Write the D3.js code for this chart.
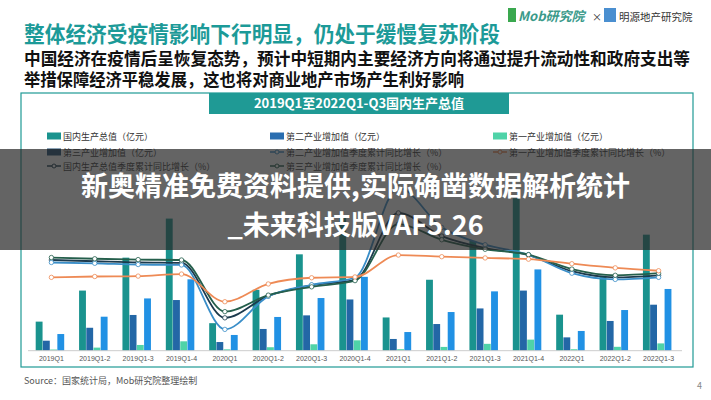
<!DOCTYPE html>
<html><head><meta charset="utf-8">
<script src="https://cdn.jsdelivr.net/npm/d3@7"></script>
<style>body{margin:0;background:#fff}svg{display:block;font-family:"Noto Sans CJK SC","Noto Sans",sans-serif}</style>
</head><body><svg id="c" width="711" height="400"></svg>
<script>
const categories=["2019Q1","2019Q1-2","2019Q1-3","2019Q1-4","2020Q1","2020Q1-2","2020Q1-3","2020Q1-4","2021Q1","2021Q1-2","2021Q1-3","2021Q1-4","2022Q1","2022Q1-2","2022Q1-3"];
const gdp=[218063,450933,697798,990865,206504,456614,722786,1015986,249310,532167,823131,1143670,270178,562642,870269];
const secondary=[75000,172000,268000,380000,65000,163000,265000,384255,88000,200000,317000,450904,100000,223000,345000];
const primary=[8769,23207,43005,70467,10186,26053,48123,77754,11332,28402,51430,83086,10954,29137,54779];
const tertiary=[125000,255000,392000,535371,118000,253000,395000,553977,140000,290000,445000,609680,148000,305000,463000];
const gdpGrowth=[6.9,6.6,6.3,6.2,-7.1,-1.8,0.8,2.1,18.3,12.7,9.8,8.1,4.2,2.7,3.2];
const secGrowth=[6.3,6.1,5.8,5.7,-9.9,-1.9,0.9,2.6,24.4,14.8,10.6,8.2,3.7,2.2,2.7];
const terGrowth=[7.5,7.2,7.0,6.9,-5.6,-1.6,0.4,1.9,15.6,11.8,9.5,8.2,4.7,3.2,3.7];
const priGrowth=[2.7,2.9,3.0,3.5,-3.2,1.1,2.6,2.8,8.1,7.7,7.4,7.1,6.0,5.0,4.3];
const legendItems=[["国内生产总值（亿元）","bar",0],["第二产业增加值（亿元）","bar",1],["第一产业增加值（亿元）","bar",2],["第三产业增加值（亿元）","bar",3],["第二产业增加值季度累计同比增长（%）","line",1],["第一产业增加值季度累计同比增长（%）","line",3],["国内生产总值季度累计同比增长（%）","line",0],["第三产业增加值季度累计同比增长（%）","line",2]];

const svg=d3.select("#c");
const teal="#1f9a95";
const barColors=["#1a938e","#2367a6","#4fd3a8","#2191e4"];
const legendBarColors=["#1a938e","#2a6eb0","#4fd3a8","#1f4d72"];
const lineColors=["#1c3a4d","#3a8ec8","#255f4c","#ee8a55"];

svg.append("text").attr("x",24).attr("y",42).attr("font-size",21.5).attr("font-weight",700).attr("fill","#1c9a98").attr("textLength",476).attr("lengthAdjust","spacingAndGlyphs").text("整体经济受疫情影响下行明显，仍处于缓慢复苏阶段");
svg.append("text").attr("x",24).attr("y",65).attr("font-size",17.5).attr("font-weight",700).attr("fill","#111").attr("textLength",666).attr("lengthAdjust","spacingAndGlyphs").text("中国经济在疫情后呈恢复态势，预计中短期内主要经济方向将通过提升流动性和政府支出等");
svg.append("text").attr("x",24).attr("y",86).attr("font-size",17.5).attr("font-weight",700).attr("fill","#111").attr("textLength",440).attr("lengthAdjust","spacingAndGlyphs").text("举措保障经济平稳发展，这也将对商业地产市场产生利好影响");
svg.append("rect").attr("x",508).attr("y",8).attr("width",8).attr("height",14).attr("fill","#3aa84f");
svg.append("text").attr("x",518).attr("y",21).attr("font-size",13).attr("font-weight",700).attr("font-style","italic").attr("fill","#3a9a8a").text("Mob研究院");
svg.append("text").attr("x",592).attr("y",21).attr("font-size",10).attr("fill","#333").text("×");
svg.append("rect").attr("x",604).attr("y",8).attr("width",12).attr("height",14).attr("fill","#4a8fd0");
svg.append("text").attr("x",619).attr("y",21).attr("font-size",10.5).attr("fill","#333").text("明源地产研究院");

svg.append("rect").attr("x",21).attr("y",93).attr("width",672).attr("height",274).attr("fill","none").attr("stroke",teal).attr("stroke-width",1.2);
svg.append("rect").attr("x",209).attr("y",93).attr("width",300).attr("height",21).attr("fill",teal);
svg.append("text").attr("x",359).attr("y",108).attr("text-anchor","middle").attr("font-size",13).attr("font-weight",700).attr("fill","#fff").text("2019Q1至2022Q1-Q3国内生产总值");

const lx=[47,270,493], ly=[136,152,166];
legendItems.forEach((d,i)=>{
  const g=svg.append("g").attr("transform",`translate(${lx[i%3]},${ly[Math.floor(i/3)]})`);
  if(d[1]==="bar") g.append("rect").attr("x",0).attr("y",-3.5).attr("width",14).attr("height",7).attr("fill",legendBarColors[d[2]]);
  else {g.append("line").attr("x1",0).attr("x2",14).attr("stroke",lineColors[d[2]]).attr("stroke-width",1.5);
        g.append("circle").attr("cx",7).attr("r",2).attr("fill","#fff").attr("stroke",lineColors[d[2]]);}
  g.append("text").attr("x",16).attr("y",3.5).attr("font-size",9).attr("fill","#333").text(d[0]);
});

const x0=d3.scaleBand().domain(categories).range([29.7,680.3]);
const x1=d3.scaleBand().domain([0,1,2,3]).range([6,34.5]).paddingInner(0.05);
const yBar=d3.scaleLinear().domain([0,1200000]).range([350.7,190.7]);
const yPct=d3.scaleLinear().domain([-10,25]).range([329.8,185.25]);

const seriesBars=[gdp,secondary,primary,tertiary];
seriesBars.forEach((arr,s)=>{
  svg.append("g").selectAll("rect").data(arr).join("rect")
    .attr("x",(v,i)=>x0(categories[i])+x1(s)).attr("width",x1.bandwidth())
    .attr("y",v=>yBar(v)).attr("height",v=>yBar(0)-yBar(v)).attr("fill",barColors[s]);
});
svg.append("line").attr("x1",28).attr("x2",682).attr("y1",350.7).attr("y2",350.7).attr("stroke","#ccc");
const ax=svg.append("g").attr("transform","translate(0,351)").call(d3.axisBottom(x0).tickSize(0).tickPadding(5));
ax.select(".domain").remove();
ax.selectAll("text").attr("font-size",7).attr("fill","#555");

const lineSeries=[gdpGrowth,secGrowth,terGrowth,priGrowth];
const line=d3.line().x((v,i)=>x0(categories[i])+x0.bandwidth()/2).y(v=>yPct(v)).curve(d3.curveMonotoneX);
lineSeries.forEach((arr,s)=>{
  svg.append("path").datum(arr).attr("d",line).attr("fill","none").attr("stroke",lineColors[s]).attr("stroke-width",1.8);
  svg.append("g").selectAll("circle").data(arr).join("circle")
    .attr("cx",(v,i)=>x0(categories[i])+x0.bandwidth()/2).attr("cy",v=>yPct(v)).attr("r",2.2)
    .attr("fill","#fff").attr("stroke",lineColors[s]).attr("stroke-width",0.8);
});

svg.append("text").attr("x",24).attr("y",384).attr("font-size",9).attr("fill","#555").text("Source：国家统计局，Mob研究院整理绘制");
svg.append("text").attr("x",697).attr("y",389).attr("font-size",9).attr("fill","#888").text("4");

svg.append("rect").attr("x",0).attr("y",149).attr("width",711).attr("height",101).attr("fill","rgba(40,40,40,0.72)");
svg.append("text").attr("x",355.5).attr("y",196).attr("text-anchor","middle").attr("font-size",27).attr("font-weight",700).attr("fill","#fff").text("新奥精准免费资料提供,实际确凿数据解析统计");
svg.append("text").attr("x",355.5).attr("y",235).attr("text-anchor","middle").attr("font-size",27).attr("font-weight",700).attr("fill","#fff").text("_未来科技版VAF5.26");
</script></body></html>
